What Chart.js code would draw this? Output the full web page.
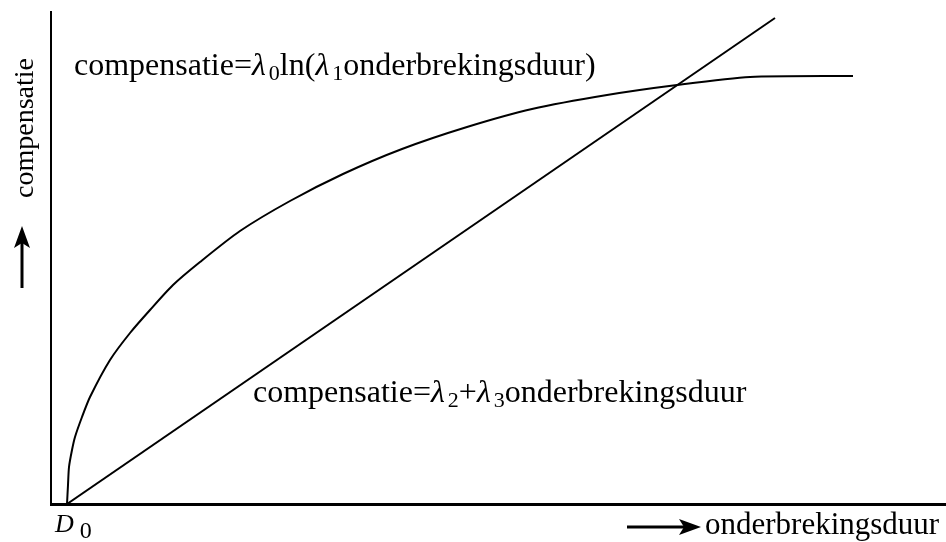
<!DOCTYPE html>
<html>
<head>
<meta charset="utf-8">
<title>compensatie</title>
<script src="https://cdn.jsdelivr.net/npm/chart.js@4/dist/chart.umd.min.js"></script>
<style>
  body { margin: 0; background: #fff; }
  canvas { display: block; }
</style>
</head>
<body>
<canvas id="myChart" width="946" height="542"></canvas>
<script>
// onderbrekingsduur / compensatie, logarithmic model
const logDuur = [16, 17, 18, 21, 24, 31, 39, 59, 79, 99, 122, 149, 189, 239, 292, 351, 416, 481, 556, 626, 699, 802];
const logComp = [0, 19, 37, 54, 67, 87, 107, 144, 171, 194, 219, 242, 273, 303, 330, 355, 377, 395, 409, 419, 427, 428];

// linear model
const linDuur = [16, 724];
const linComp = [0, 486];

const xMax = 895;
const yMax = 492;

const serif = "'Liberation Serif', 'DejaVu Serif', serif";

function toPoints(xs, ys) {
  return xs.map((x, i) => ({ x: x, y: ys[i] }));
}

// draws a row of text pieces, each with its own font and vertical shift
function drawRuns(ctx, x, y, runs) {
  runs.forEach((r) => {
    ctx.font = r.font;
    x += r.gap || 0;
    ctx.fillText(r.text, x, y + (r.dy || 0));
    x += ctx.measureText(r.text).width;
  });
}

function arrowRight(ctx, x0, x1, y) {
  ctx.lineWidth = 3;
  ctx.beginPath();
  ctx.moveTo(x0, y);
  ctx.lineTo(x1 - 14, y);
  ctx.stroke();
  ctx.beginPath();
  ctx.moveTo(x1, y);
  ctx.lineTo(x1 - 22, y - 8);
  ctx.lineTo(x1 - 17, y);
  ctx.lineTo(x1 - 22, y + 8);
  ctx.closePath();
  ctx.fill();
}

function arrowUp(ctx, x, y0, y1) {
  ctx.lineWidth = 3;
  ctx.beginPath();
  ctx.moveTo(x, y0);
  ctx.lineTo(x, y1 + 14);
  ctx.stroke();
  ctx.beginPath();
  ctx.moveTo(x, y1);
  ctx.lineTo(x - 8, y1 + 22);
  ctx.lineTo(x, y1 + 17);
  ctx.lineTo(x + 8, y1 + 22);
  ctx.closePath();
  ctx.fill();
}

const labels = {
  id: "labels",
  afterDraw(chart) {
    const ctx = chart.ctx;
    const main = "32px " + serif;
    const greek = "italic 32px " + serif;
    const sub = "22px " + serif;
    ctx.save();
    ctx.fillStyle = "#000";
    ctx.strokeStyle = "#000";
    ctx.textBaseline = "alphabetic";
    ctx.textAlign = "left";

    drawRuns(ctx, 74, 75, [
      { text: "compensatie=", font: main },
      { text: "λ", font: greek },
      { text: "0", font: sub, dy: 5, gap: 3 },
      { text: "ln(", font: main },
      { text: "λ", font: greek },
      { text: "1", font: sub, dy: 5, gap: 3 },
      { text: "onderbrekingsduur)", font: main },
    ]);

    drawRuns(ctx, 253, 402, [
      { text: "compensatie=", font: main },
      { text: "λ", font: greek },
      { text: "2", font: sub, dy: 5, gap: 3 },
      { text: "+", font: main },
      { text: "λ", font: greek },
      { text: "3", font: sub, dy: 5, gap: 3 },
      { text: "onderbrekingsduur", font: main },
    ]);

    // D0 under the start of both curves
    drawRuns(ctx, 55, 532, [
      { text: "D", font: "italic 26px " + serif },
      { text: "0", font: "24px " + serif, dy: 6, gap: 6 },
    ]);

    // axis names with arrows
    ctx.font = "31px " + serif;
    ctx.fillText("onderbrekingsduur", 705, 534);
    arrowRight(ctx, 627, 701, 527);

    ctx.save();
    ctx.translate(33, 128);
    ctx.rotate(-Math.PI / 2);
    ctx.textAlign = "center";
    ctx.font = "28px " + serif;
    ctx.fillText("compensatie", 0, 0);
    ctx.restore();
    arrowUp(ctx, 22, 288, 226);

    ctx.restore();
  },
};

const ctx = document.getElementById("myChart").getContext("2d");

new Chart(ctx, {
  type: "scatter",
  data: {
    datasets: [
      {
        label: "ln",
        data: toPoints(logDuur, logComp),
        showLine: true,
        borderColor: "#000",
        borderWidth: 2,
        pointRadius: 0,
        tension: 0.25,
        fill: false,
      },
      {
        label: "lineair",
        data: toPoints(linDuur, linComp),
        showLine: true,
        borderColor: "#000",
        borderWidth: 2,
        pointRadius: 0,
        tension: 0,
        fill: false,
      },
    ],
  },
  options: {
    responsive: false,
    animation: false,
    layout: {
      padding: { left: 51, top: 12, right: 0, bottom: 38 },
    },
    plugins: {
      legend: { display: false },
      tooltip: { enabled: false },
    },
    scales: {
      x: {
        type: "linear",
        min: 0,
        max: xMax,
        grid: { display: false, drawTicks: false },
        ticks: { display: false },
        border: { display: true, color: "#000", width: 3 },
      },
      y: {
        type: "linear",
        min: 0,
        max: yMax,
        grid: { display: false, drawTicks: false },
        ticks: { display: false },
        border: { display: true, color: "#000", width: 2 },
      },
    },
  },
  plugins: [labels],
});
</script>
</body>
</html>
